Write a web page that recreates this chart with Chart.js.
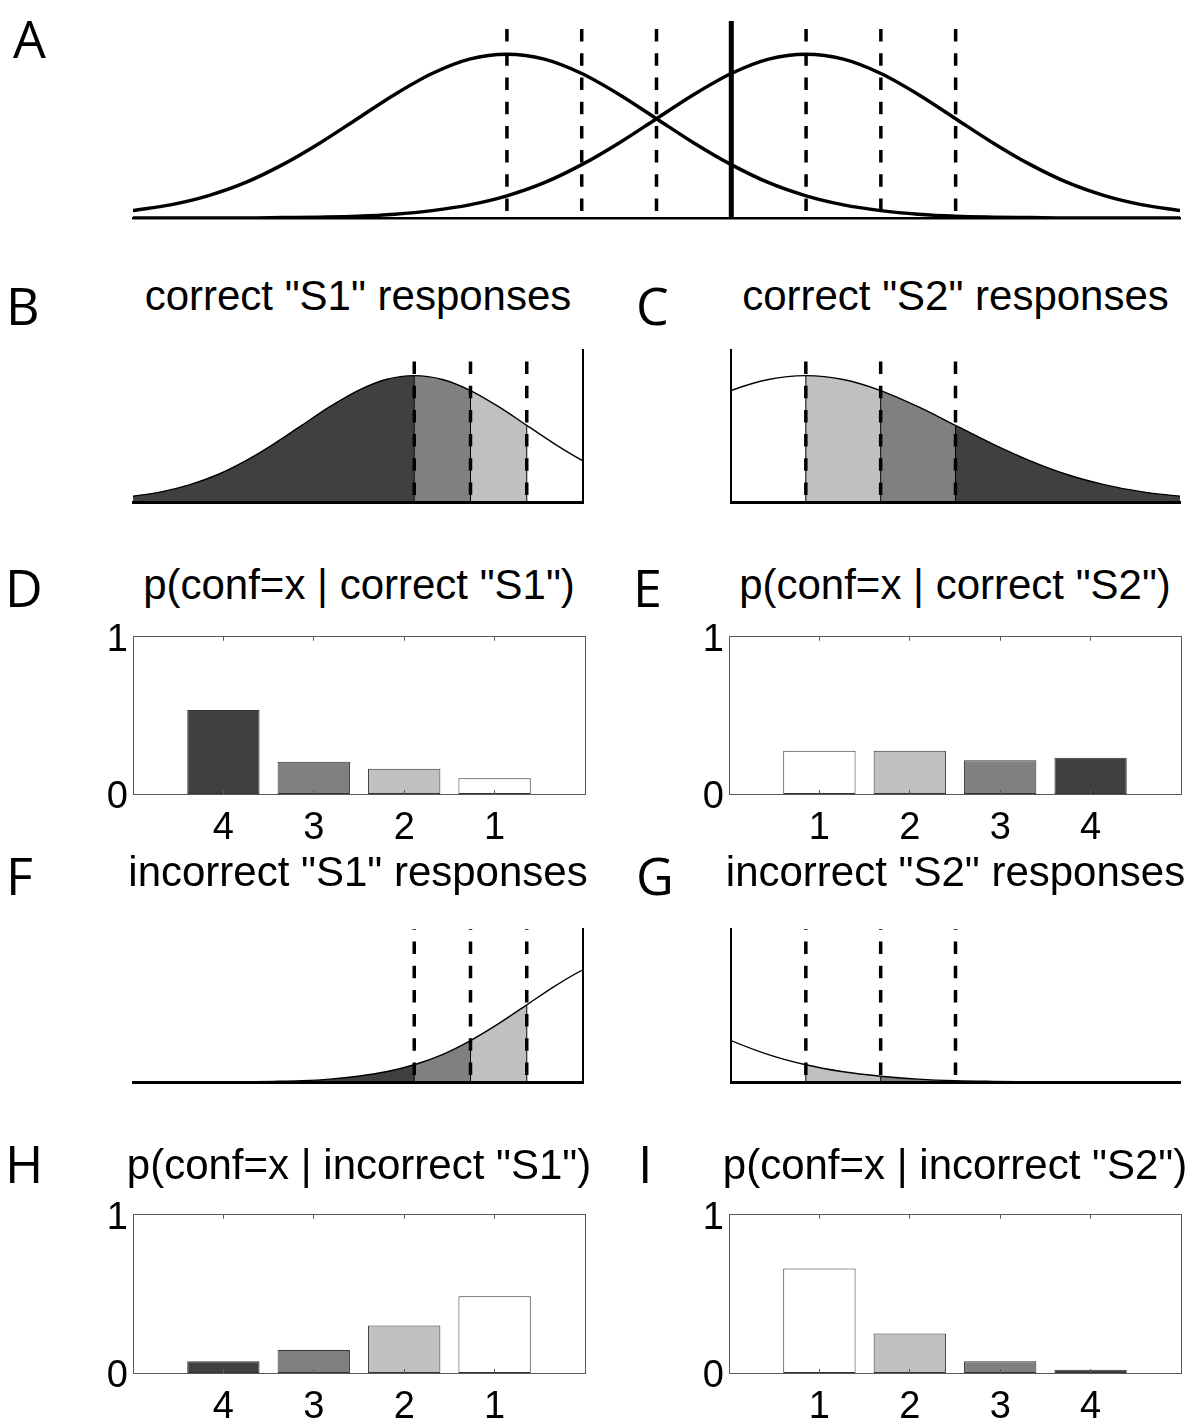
<!DOCTYPE html>
<html>
<head>
<meta charset="utf-8">
<title>Type-2 SDT: confidence distributions</title>
<script src="https://cdn.jsdelivr.net/npm/chart.js@4/dist/chart.umd.min.js"></script>
<style>
  html, body { margin: 0; padding: 0; background: #fff; }
  #fig { position: relative; width: 1192px; height: 1421px; background: #fff; overflow: hidden; }
  #fig canvas { position: absolute; }
  .panel-letter { position: absolute; font-family: "Open Sans", sans-serif; font-size: 52px; line-height: 52px; color: #000; white-space: nowrap; }
  .panel-title { position: absolute; font-family: "Liberation Sans", Arial, sans-serif; font-size: 42px; line-height: 42px; color: #000; text-align: center; white-space: nowrap; }
</style>
</head>
<body>
<div id="fig"></div>
<script>
// ---- data -------------------------------------------------------------
// internal evidence axis (in units of the noise sd)
const evidence = [-3.5, -3.25, -3, -2.75, -2.5, -2.25, -2, -1.75, -1.5, -1.25, -1, -0.75, -0.5, -0.25,
                  0, 0.25, 0.5, 0.75, 1, 1.25, 1.5, 1.75, 2, 2.25, 2.5, 2.75, 3, 3.25, 3.5];
// probability density of the evidence for S1 and S2 stimuli
const densityS1 = [0.018, 0.032, 0.054, 0.086, 0.130, 0.183, 0.242, 0.301, 0.352, 0.387, 0.399, 0.387, 0.352, 0.301,
                   0.242, 0.183, 0.130, 0.086, 0.054, 0.032, 0.018, 0.009, 0.004, 0.002, 0.001, 0.000, 0.000, 0.000, 0.000];
const densityS2 = [0.000, 0.000, 0.000, 0.000, 0.001, 0.002, 0.004, 0.009, 0.018, 0.032, 0.054, 0.086, 0.130, 0.183,
                   0.242, 0.301, 0.352, 0.387, 0.399, 0.387, 0.352, 0.301, 0.242, 0.183, 0.130, 0.086, 0.054, 0.032, 0.018];

// response criteria
const typeOneCriterion = 0.5;
const ratingCriteriaS1 = [-1, -0.5, 0];   // confidence boundaries for "S1" responses
const ratingCriteriaS2 = [1, 1.5, 2];     // confidence boundaries for "S2" responses
const densityAxisMax = 0.48;

// confidence rating histograms
const confLevelsS1 = ['4', '3', '2', '1'];
const confLevelsS2 = ['1', '2', '3', '4'];
const pConfCorrectS1   = [0.535, 0.205, 0.16, 0.10];
const pConfCorrectS2   = [0.275, 0.275, 0.215, 0.23];
const pConfIncorrectS1 = [0.075, 0.145, 0.30, 0.485];
const pConfIncorrectS2 = [0.66, 0.25, 0.075, 0.02];
const probTicks = [0, 1];

// gray level used for each confidence rating (1 = lowest ... 4 = highest)
const confidenceShades = ['#ffffff', '#c0c0c0', '#808080', '#404040'];

// ---- helpers ----------------------------------------------------------
Chart.defaults.font.family = '"Liberation Sans", Arial, sans-serif';
Chart.defaults.color = '#000';

const fig = document.getElementById('fig');

function makeCanvas(left, top, width, height) {
  const c = document.createElement('canvas');
  c.width = width; c.height = height;
  c.style.left = left + 'px'; c.style.top = top + 'px';
  c.style.width = width + 'px'; c.style.height = height + 'px';
  fig.appendChild(c);
  return c;
}

function addText(cls, text, left, top, width) {
  const d = document.createElement('div');
  d.className = cls;
  d.textContent = text;
  d.style.left = left + 'px';
  d.style.top = top + 'px';
  if (width) d.style.width = width + 'px';
  fig.appendChild(d);
}

// confidence rating implied by an evidence value
function confidenceAt(x) {
  if (x < typeOneCriterion) {
    return 1 + ratingCriteriaS1.filter(c => c > x).length;
  }
  return 1 + ratingCriteriaS2.filter(c => c <= x).length;
}

const baseOptions = {
  responsive: false,
  devicePixelRatio: 1,
  animation: false,
  events: [],
  plugins: { legend: { display: false }, tooltip: { enabled: false } }
};

// ---- density panels ---------------------------------------------------
const M = 8;
function densityPanel(box, cfg) {
  const canvas = makeCanvas(box.l - M, box.t - M, box.r - box.l + 2 * M, box.b - box.t + 2 * M);
  const datasets = [];
  const points = density => evidence.map((x, i) => ({ x, y: density[i] }));

  cfg.criteria.forEach(c => {
    datasets.push({
      data: [{ x: c.x, y: 0 }, { x: c.x, y: densityAxisMax }],
      borderColor: '#000',
      borderWidth: c.solid ? 5 : cfg.dashWidth,
      borderDash: c.solid ? [] : [12.5, 11.7],
      borderDashOffset: c.solid ? 0 : 17.2,
      borderCapStyle: 'butt',
      pointRadius: 0, fill: false, tension: 0
    });
  });

  (cfg.bandEdges || []).forEach(x => {
    const h = cfg.curves[0][evidence.indexOf(x)];
    datasets.push({
      data: [{ x, y: 0 }, { x, y: h }],
      borderColor: '#000', borderWidth: 1,
      pointRadius: 0, fill: false, tension: 0
    });
  });

  cfg.curves.forEach(density => {
    const ds = {
      data: points(density),
      borderColor: '#000',
      borderWidth: cfg.curveWidth,
      pointRadius: 0,
      cubicInterpolationMode: 'monotone',
      capBezierPoints: false,
      fill: cfg.shaded ? 'origin' : false,
      backgroundColor: 'rgba(0,0,0,0)'
    };
    if (cfg.shaded) {
      ds.segment = {
        backgroundColor: ctx => confidenceShades[
          confidenceAt((evidence[ctx.p0DataIndex] + evidence[ctx.p1DataIndex]) / 2) - 1]
      };
    }
    datasets.push(ds);
  });

  new Chart(canvas, {
    type: 'line',
    data: { datasets },
    options: Object.assign({}, baseOptions, {
      layout: { padding: M },
      scales: {
        x: {
          type: 'linear', min: cfg.xMin, max: cfg.xMax,
          grid: { display: false, drawTicks: false },
          ticks: { display: false },
          border: { display: true, color: '#000', width: cfg.baseWidth, z: 1 },
          afterFit: s => { s.height = 0; }
        },
        y: {
          type: 'linear', min: 0, max: densityAxisMax,
          position: cfg.axisSide || 'left',
          display: !!cfg.axisSide,
          grid: { display: false, drawTicks: false },
          ticks: { display: false },
          border: { display: true, color: '#000', width: 2, z: 1 },
          afterFit: s => { s.width = 0; }
        }
      }
    })
  });
}

// ---- rating histograms -------------------------------------------------
const FRAME = '#5a5a5a';
function barPanel(box, labels, values) {
  const padL = 70, padT = 24, padR = 8, padB = 60;
  const canvas = makeCanvas(box.l - padL, box.t - padT,
                            box.r - box.l + padL + padR, box.b - box.t + padT + padB);
  const slots = labels.map((_, i) => i + 1);
  const setSlots = s => { s.ticks = slots.map(v => ({ value: v })); };
  const inwardTicks = { display: true, drawOnChartArea: false, drawTicks: true, tickLength: -4,
                        color: FRAME, lineWidth: 1, offset: false, z: 1 };
  const frame = { display: true, color: FRAME, width: 1, z: 1 };

  new Chart(canvas, {
    type: 'bar',
    data: {
      datasets: [{
        data: values.map((v, i) => ({ x: slots[i], y: v })),
        backgroundColor: labels.map(l => confidenceShades[Number(l) - 1]),
        borderColor: '#333333',
        borderWidth: 1,
        borderSkipped: false,
        barPercentage: 0.8,
        categoryPercentage: 1
      }]
    },
    options: Object.assign({}, baseOptions, {
      layout: { padding: { top: padT, right: padR, left: 0, bottom: 0 } },
      scales: {
        x: {
          type: 'linear', position: 'bottom', offset: false,
          min: 0, max: labels.length + 1,
          afterBuildTicks: setSlots,
          ticks: { font: { size: 38 }, color: '#000', padding: 16, maxRotation: 0, autoSkip: false,
                   callback: v => labels[v - 1] },
          grid: inwardTicks,
          border: frame,
          afterFit: s => { s.height = padB; }
        },
        xTop: {
          type: 'linear', position: 'top', offset: false,
          min: 0, max: labels.length + 1,
          afterBuildTicks: setSlots,
          ticks: { display: false },
          grid: inwardTicks,
          border: frame,
          afterFit: s => { s.height = 0; }
        },
        y: {
          type: 'linear', position: 'left', min: 0, max: 1,
          afterBuildTicks: s => { s.ticks = probTicks.map(v => ({ value: v })); },
          ticks: { font: { size: 38 }, color: '#000', padding: 5, labelOffset: 4 },
          grid: { display: false, drawTicks: false },
          border: frame,
          afterFit: s => { s.width = padL; }
        },
        yRight: {
          type: 'linear', position: 'right', min: 0, max: 1,
          ticks: { display: false },
          grid: { display: false, drawTicks: false },
          border: frame,
          afterFit: s => { s.width = 0; }
        }
      }
    })
  });
}

// ---- layout -----------------------------------------------------------
const boxA = { l: 133, t: 21,   r: 1180, b: 218 };
const boxB = { l: 133, t: 350,  r: 583,  b: 502 };
const boxC = { l: 731, t: 350,  r: 1180, b: 502 };
const boxD = { l: 133, t: 633,  r: 585,  b: 794 };
const boxE = { l: 729, t: 633,  r: 1181, b: 794 };
const boxF = { l: 133, t: 929,  r: 583,  b: 1082 };
const boxG = { l: 731, t: 929,  r: 1180, b: 1082 };
const boxH = { l: 133, t: 1211, r: 585,  b: 1373 };
const boxI = { l: 729, t: 1211, r: 1181, b: 1373 };

const dashed = xs => xs.map(x => ({ x, solid: false }));

densityPanel(boxA, {
  xMin: evidence[0], xMax: evidence[evidence.length - 1],
  curves: [densityS1, densityS2], curveWidth: 3.5, shaded: false, baseWidth: 2.5, dashWidth: 3.5,
  criteria: dashed(ratingCriteriaS1).concat([{ x: typeOneCriterion, solid: true }], dashed(ratingCriteriaS2))
});
densityPanel(boxB, {
  xMin: evidence[0], xMax: typeOneCriterion, axisSide: 'right',
  curves: [densityS1], curveWidth: 1.4, shaded: true, baseWidth: 3, dashWidth: 3.5,
  criteria: dashed(ratingCriteriaS1), bandEdges: ratingCriteriaS1
});
densityPanel(boxC, {
  xMin: typeOneCriterion, xMax: evidence[evidence.length - 1], axisSide: 'left',
  curves: [densityS2], curveWidth: 1.4, shaded: true, baseWidth: 3, dashWidth: 3.5,
  criteria: dashed(ratingCriteriaS2), bandEdges: ratingCriteriaS2
});
densityPanel(boxF, {
  xMin: evidence[0], xMax: typeOneCriterion, axisSide: 'right',
  curves: [densityS2], curveWidth: 1.4, shaded: true, baseWidth: 3, dashWidth: 3.5,
  criteria: dashed(ratingCriteriaS1), bandEdges: ratingCriteriaS1
});
densityPanel(boxG, {
  xMin: typeOneCriterion, xMax: evidence[evidence.length - 1], axisSide: 'left',
  curves: [densityS1], curveWidth: 1.4, shaded: true, baseWidth: 3, dashWidth: 3.5,
  criteria: dashed(ratingCriteriaS2), bandEdges: ratingCriteriaS2
});

barPanel(boxD, confLevelsS1, pConfCorrectS1);
barPanel(boxE, confLevelsS2, pConfCorrectS2);
barPanel(boxH, confLevelsS1, pConfIncorrectS1);
barPanel(boxI, confLevelsS2, pConfIncorrectS2);

// ---- panel letters and titles -------------------------------------------
const letterAscent = 46.2;   // baseline offset for 52px Open Sans
const titleAscent = 35.6;    // baseline offset for 42px Liberation Sans
[
  ['A', 13, 58], ['B', 6, 325], ['C', 636, 325],
  ['D', 5, 607], ['E', 633, 607], ['F', 6, 895],
  ['G', 636, 895], ['H', 5, 1183], ['I', 638, 1183]
].forEach(([t, x, base]) => addText('panel-letter', t, x, base - letterAscent));

[
  ['correct "S1" responses', boxB, 311],
  ['correct "S2" responses', boxC, 311],
  ['p(conf=x | correct "S1")', boxD, 600],
  ['p(conf=x | correct "S2")', boxE, 600],
  ['incorrect "S1" responses', boxF, 887],
  ['incorrect "S2" responses', boxG, 887],
  ['p(conf=x | incorrect "S1")', boxH, 1180],
  ['p(conf=x | incorrect "S2")', boxI, 1180]
].forEach(([t, box, base]) => addText('panel-title', t, box.l - 40, base - titleAscent, box.r - box.l + 80));
</script>
</body>
</html>
